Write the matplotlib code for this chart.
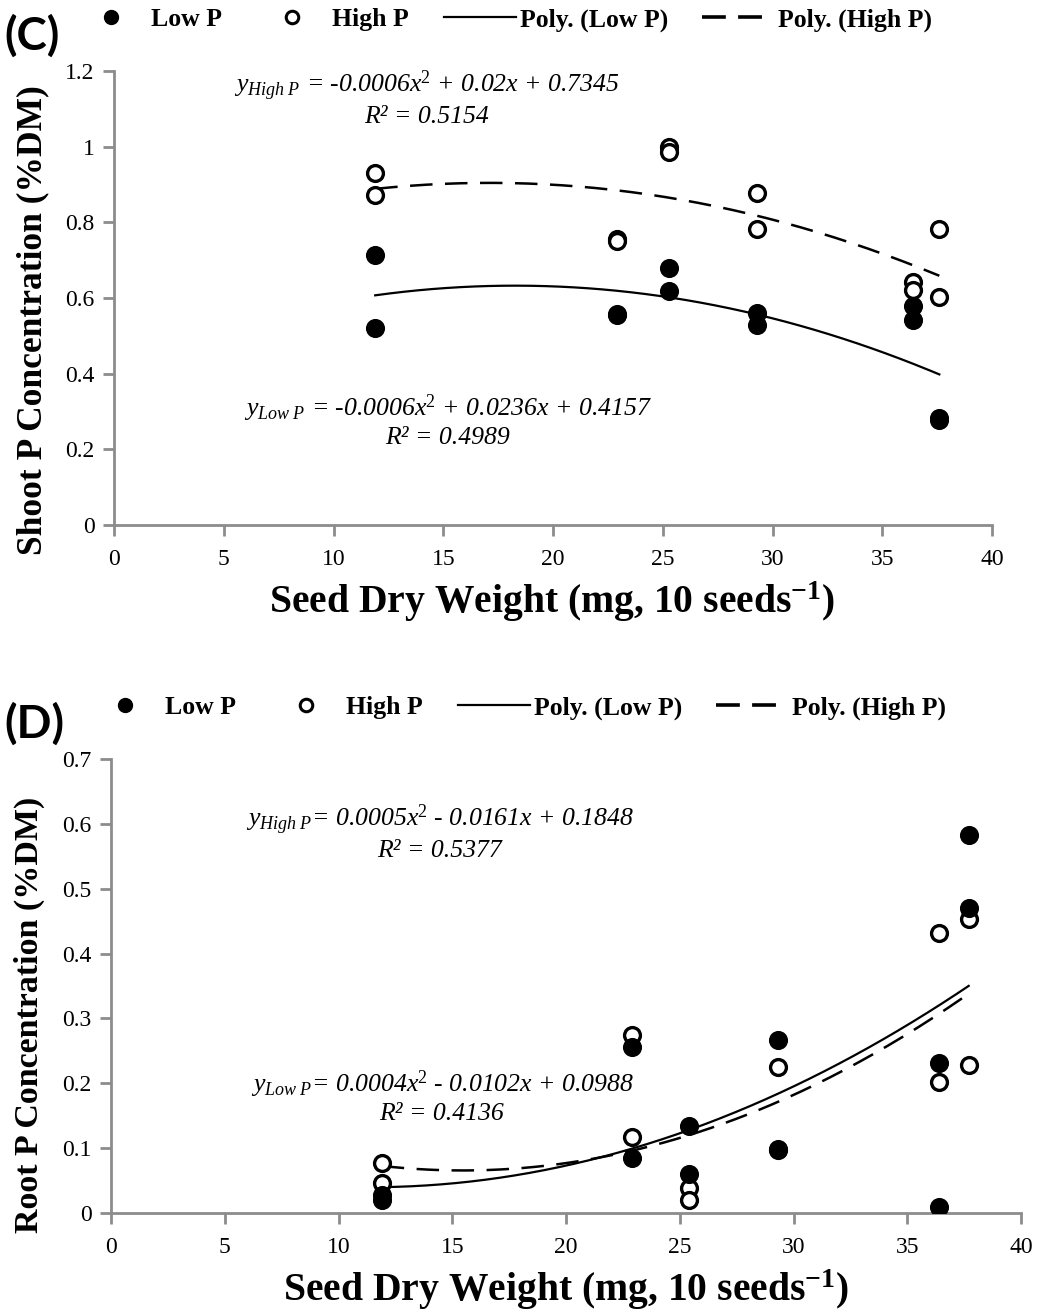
import numpy as np
import matplotlib
matplotlib.use("Agg")
import matplotlib.pyplot as plt
from matplotlib.lines import Line2D

plt.rcParams['font.family'] = ['Liberation Serif', 'DejaVu Serif']
plt.rcParams['mathtext.fontset'] = 'custom'
plt.rcParams['mathtext.rm'] = 'Liberation Serif'
plt.rcParams['mathtext.it'] = 'Liberation Serif:italic'
plt.rcParams['mathtext.bf'] = 'Liberation Serif:bold'

# ---------------- Data: panel C (shoot) ----------------
c_low_x = [11.9, 11.9, 22.9, 22.9, 25.3, 25.3, 29.3, 29.3, 36.4, 36.4, 37.6, 37.6]
c_low_y = [0.714, 0.521, 0.558, 0.556, 0.679, 0.619, 0.560, 0.529, 0.579, 0.542, 0.282, 0.278]
c_high_x = [11.9, 11.9, 22.9, 22.9, 25.3, 25.3, 29.3, 29.3, 36.4, 36.4, 37.6, 37.6]
c_high_y = [0.930, 0.872, 0.755, 0.751, 1.000, 0.986, 0.878, 0.782, 0.642, 0.621, 0.782, 0.603]

# ---------------- Data: panel D (root) ----------------
d_low_x = [11.9, 11.9, 22.9, 22.9, 25.4, 25.4, 29.3, 29.3, 36.4, 36.4, 37.7, 37.7]
d_low_y = [0.028, 0.020, 0.256, 0.085, 0.134, 0.060, 0.267, 0.099, 0.231, 0.009, 0.583, 0.470]
d_high_x = [11.9, 11.9, 22.9, 22.9, 25.4, 25.4, 29.3, 29.3, 36.4, 36.4, 37.7, 37.7]
d_high_y = [0.077, 0.046, 0.274, 0.117, 0.039, 0.020, 0.225, 0.097, 0.432, 0.202, 0.453, 0.228]

x_ticks = [0, 5, 10, 15, 20, 25, 30, 35, 40]
c_yticks = [0, 0.2, 0.4, 0.6, 0.8, 1.0, 1.2]
c_ytick_labels = ['0', '0.2', '0.4', '0.6', '0.8', '1', '1.2']
d_yticks = [0, 0.1, 0.2, 0.3, 0.4, 0.5, 0.6, 0.7]
d_ytick_labels = ['0', '0.1', '0.2', '0.3', '0.4', '0.5', '0.6', '0.7']

legend_labels = ['Low P', 'High P', 'Poly. (Low P)', 'Poly. (High P)']
x_label = 'Seed Dry Weight (mg, 10 seeds$^{\\mathbf{-1}}$)'
c_ylabel = 'Shoot P Concentration (%DM)'
d_ylabel = 'Root P Concentration (%DM)'

c_eq_high = ['$y_{High\\ P}$ = -0.0006x$^2$ + 0.02x + 0.7345', 'R² = 0.5154']
c_eq_low = ['$y_{Low\\ P}$ = -0.0006x$^2$ + 0.0236x + 0.4157', 'R² = 0.4989']
d_eq_high = ['$y_{High\\ P}$= 0.0005x$^2$ - 0.0161x + 0.1848', 'R² = 0.5377']
d_eq_low = ['$y_{Low\\ P}$= 0.0004x$^2$ - 0.0102x + 0.0988', 'R² = 0.4136']

W, H = 1038, 1315
fig = plt.figure(figsize=(W / 100, H / 100), dpi=100)

GRAY = '#8c8c8c'
DASH = (0, (9, 5))


def px(x0, y0, x1, y1):
    return [x0 / W, 1 - y1 / H, (x1 - x0) / W, (y1 - y0) / H]


def panel(rect, lx, ly, hx, hy, ylim, yticks, yticklabels, ylabel, eqs, tag, leg_xy, tag_xy,
          xlabel_xy, ylabel_xy, xlabel_size, ylabel_size):
    ax = fig.add_axes(rect)
    ax.scatter(hx, hy, s=130, facecolors='white', edgecolors='black', linewidths=2.4, zorder=3)
    ax.scatter(lx, ly, s=150, c='black', edgecolors='black', linewidths=1.5, zorder=4)
    for xs, ys, ls, lw in ((lx, ly, '-', 1.6), (hx, hy, DASH, 1.8)):
        coef = np.polyfit(xs, ys, 2)
        xx = np.linspace(min(xs), max(xs), 200)
        ax.plot(xx, np.polyval(coef, xx), color='black', lw=lw, ls=ls, zorder=2)
    ax.set_xlim(0, 40)
    ax.set_ylim(*ylim)
    ax.set_xticks(x_ticks)
    ax.set_yticks(yticks)
    ax.set_yticklabels(yticklabels)
    for s in ('top', 'right'):
        ax.spines[s].set_visible(False)
    for s in ('left', 'bottom'):
        ax.spines[s].set_color(GRAY)
        ax.spines[s].set_linewidth(2)
    ax.tick_params(axis='both', direction='out', length=8, width=2, color=GRAY,
                   labelsize=17, pad=6)
    ax.tick_params(axis='x', pad=9)
    fig.text(xlabel_xy[0] / W, 1 - xlabel_xy[1] / H, x_label, ha='center', va='center',
             fontsize=xlabel_size, fontweight='bold')
    fig.text(ylabel_xy[0] / W, 1 - ylabel_xy[1] / H, ylabel, ha='center', va='center',
             rotation=90, fontsize=ylabel_size, fontweight='bold')
    for (cx, cy, lines) in eqs:
        fig.text(cx / W, 1 - cy / H, '\n'.join(lines), ha='center', va='center',
                 multialignment='center', fontsize=18.5, fontstyle='italic', linespacing=1.2)
    fig.text(tag_xy[0] / W, 1 - tag_xy[1] / H, tag, ha='left', va='center', fontsize=33,
             fontweight='bold', family=['Lato', 'DejaVu Sans'])
    handles = [
        Line2D([], [], ls='none', marker='o', ms=10, mfc='black', mec='black'),
        Line2D([], [], ls='none', marker='o', ms=9, mfc='white', mec='black', mew=2.2),
        Line2D([], [], color='black', lw=1.6),
        Line2D([], [], color='black', lw=2.6, ls=(0, (6.6, 3.4))),
    ]
    fig.legend(handles, legend_labels, loc='center left',
               bbox_to_anchor=(leg_xy[0] / W, 1 - leg_xy[1] / H), ncol=4, frameon=False,
               handlelength=2.8, handletextpad=0.15, columnspacing=1.35,
               borderaxespad=0, borderpad=0,
               prop={'family': 'Liberation Serif', 'weight': 'bold', 'size': 18.5})
    return ax


panel(px(114, 71, 992, 525), c_low_x, c_low_y, c_high_x, c_high_y, (0, 1.2),
      c_yticks, c_ytick_labels, c_ylabel,
      [(427, 98, c_eq_high), (448, 421, c_eq_low)], '(C)', (75, 20), (4, 36),
      (552, 602), (33, 320), 28.5, 25.5)

panel(px(111, 759, 1021, 1213), d_low_x, d_low_y, d_high_x, d_high_y, (0, 0.7),
      d_yticks, d_ytick_labels, d_ylabel,
      [(440, 832, d_eq_high), (442, 1097, d_eq_low)], '(D)', (89, 708), (4, 724),
      (566, 1290), (29, 1015), 28.5, 24.5)

fig.savefig('out.png', dpi=100)
